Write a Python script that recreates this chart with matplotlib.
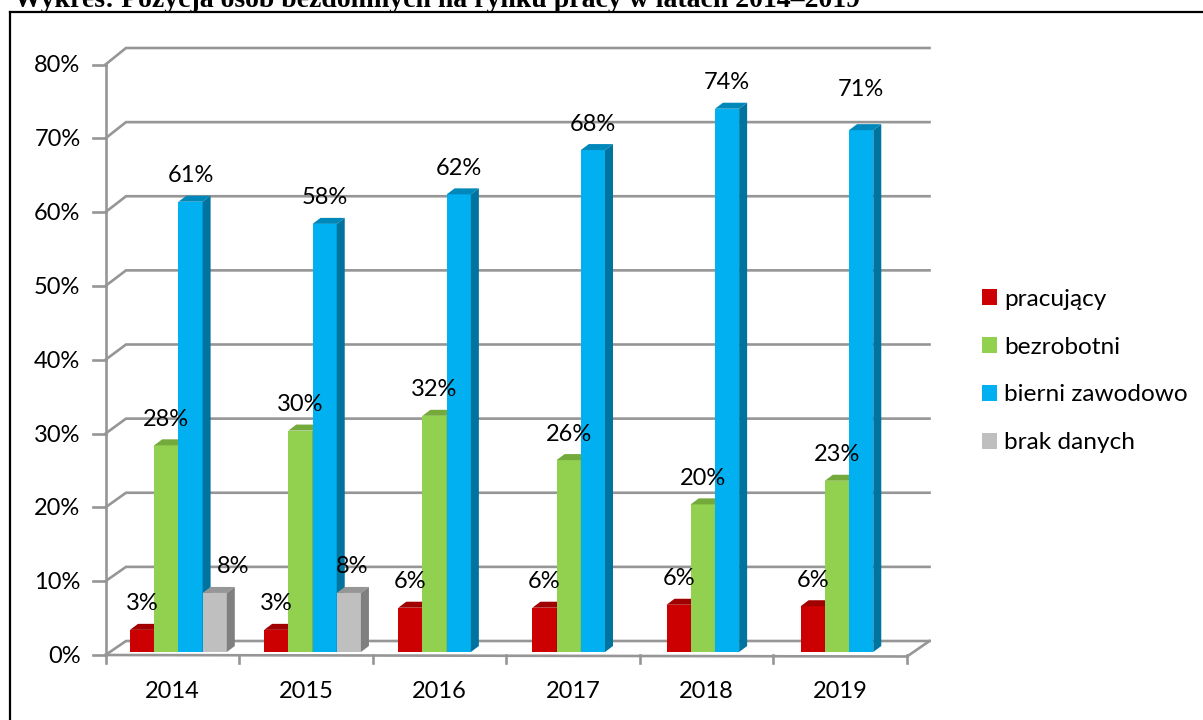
from matplotlib import pyplot as plt
from matplotlib.patches import Polygon, Rectangle
from matplotlib.lines import Line2D
import numpy as np

plt.rcParams['font.family'] = ['Lato', 'DejaVu Sans']

W, H = 1203, 720

years = ['2014', '2015', '2016', '2017', '2018', '2019']
pracujacy = [3, 3, 6, 6, 6.4, 6.2]
bezrobotni = [28, 30, 32, 26, 20, 23.2]
bierni = [61, 58, 62, 68, 73.6, 70.7]
brak_danych = [8, 8, np.nan, np.nan, np.nan, np.nan]

series_names = ['pracujący', 'bezrobotni', 'bierni zawodowo', 'brak danych']
front_colors = ['#cc0000', '#92d050', '#00b0f0', '#bfbfbf']
top_colors = ['#a00000', '#74a93c', '#0088bb', '#969696']
side_colors = ['#8a0000', '#648f33', '#00739f', '#7f7f7f']
grid_color = '#969696'

fig = plt.figure(figsize=(W / 100, H / 100), dpi=100)
ax = fig.add_axes([105.5 / W, 1 - 655 / H, (907 - 105.5) / W, (655 - 64.5) / H])
ax.set_xlim(0, 6)
ax.set_ylim(0, 80)
ax.axis('off')

px_x = 6 / (907 - 105.5)
px_y = 80 / (655 - 64.5)


def box(x0, x1, val, i):
    # front, top and side of one 3d bar, base lifted off the floor a bit
    b = 3 * px_y
    dx = 8 * px_x
    dy = 6 * px_y
    top = val + b
    ax.add_patch(Polygon([(x0, b), (x1, b), (x1, top), (x0, top)],
                         fc=front_colors[i], ec='none', zorder=5, clip_on=False))
    ax.add_patch(Polygon([(x0, top), (x1, top), (x1 + dx, top + dy), (x0 + dx, top + dy)],
                         fc=top_colors[i], ec='none', zorder=5, clip_on=False))
    ax.add_patch(Polygon([(x1, b), (x1 + dx, b + dy), (x1 + dx, top + dy), (x1, top)],
                         fc=side_colors[i], ec='none', zorder=5, clip_on=False))


# back wall, floor and left wall
back_x = 20.5 * px_x
lw = 1.9
end_x = 6 + 22.5 * px_x
for v in range(0, 90, 10):
    back_y = (14 + 2.5 * v / 80) * px_y
    ax.plot([0, back_x, end_x], [v, v + back_y, v + back_y], color=grid_color, lw=lw,
            clip_on=False, zorder=1, solid_joinstyle='miter')
    ax.plot([-13 * px_x, 0], [v, v], color=grid_color, lw=lw, clip_on=False, zorder=1)
ax.plot([0, 0], [0, 80], color=grid_color, lw=lw, clip_on=False, zorder=1)
ax.plot([0, 6], [0, -1.5 * px_y], color=grid_color, lw=lw, clip_on=False, zorder=2)
ax.plot([6, end_x], [-1.5 * px_y, 14 * px_y], color=grid_color, lw=lw, clip_on=False, zorder=2)
for i in range(7):
    ax.plot([i, i], [0, -8 * px_y], color=grid_color, lw=lw, clip_on=False, zorder=2)

# bars, the groups drift right a little because of the perspective
bar_w = 24.2 * px_x
start = 24.5 * px_x
drift = 0.55 * px_x
all_series = [pracujacy, bezrobotni, bierni, brak_danych]
for i, s in enumerate(all_series):
    for j, val in enumerate(s):
        if np.isnan(val):
            continue
        x0 = j + start + j * drift + i * bar_w
        box(x0, x0 + bar_w, val, i)

# value labels, shifted by hand like in the original where they collide
default_lift = 27
lift_extra = {(2, 5): 15}
shift_x = {(3, 0): 18, (3, 1): 3}
for i, s in enumerate(all_series):
    for j, val in enumerate(s):
        if np.isnan(val):
            continue
        x = j + start + j * drift + (i + 0.5) * bar_w + shift_x.get((i, j), 0) * px_x
        y = val + (2 + default_lift + lift_extra.get((i, j), 0)) * px_y
        ax.text(x, y, '%d%%' % round(val), ha='center', va='center', fontsize=17,
                color='black', zorder=8, clip_on=False)

for v in range(0, 90, 10):
    ax.text(-25 * px_x, v - 1.5 * px_y, '%d%%' % v, ha='right', va='center', fontsize=17, color='black')
for j, y in enumerate(years):
    ax.text(j + 0.5, -36 * px_y, y, ha='center', va='center', fontsize=17, color='black')

# legend
handles = [Rectangle((0, 0), 1, 1, fc=c, ec='none') for c in front_colors]
fig.legend(handles, series_names, loc='center left', bbox_to_anchor=(982 / W, 1 - 371 / H),
           frameon=False, fontsize=17.6, handlelength=0.61, handleheight=0.61, handletextpad=0.29,
           labelspacing=1.1, borderpad=0, borderaxespad=0)

# frame and clipped heading from the source document
fig.add_artist(Line2D([10 / W, 10 / W], [0, 1 - 12 / H], color='black', lw=1.6))
fig.add_artist(Line2D([10 / W, 1], [1 - 12 / H, 1 - 12 / H], color='black', lw=1.6))
fig.text(14 / W, 1 - 7 / H, 'Wykres: Pozycja osób bezdomnych na rynku pracy w latach 2014–2019',
         family='Liberation Serif', fontweight='bold', fontsize=20, va='baseline', ha='left')

fig.savefig('out.png', dpi=100)
